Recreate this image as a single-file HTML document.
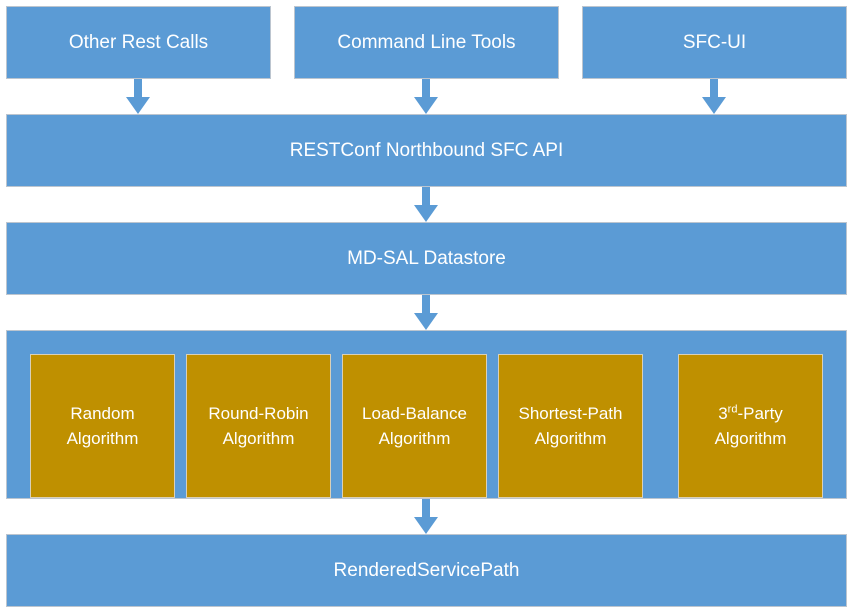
<!DOCTYPE html>
<html><head><meta charset="utf-8"><style>
body{margin:0;width:852px;height:615px;background:#fff;position:relative;overflow:hidden;font-family:"Liberation Sans",sans-serif}
.b{position:absolute;background:#5B9BD5;border:1px solid #bcc5cf;box-sizing:border-box;color:#fff;font-size:19px;display:flex;align-items:center;justify-content:center;text-align:center}
.g{position:absolute;background:#BF9000;border:1px solid #d9d0b8;box-sizing:border-box;color:#fff;font-size:17px;line-height:25px;display:flex;align-items:center;justify-content:center;text-align:center;top:354px;width:145px;height:144px}
sup{font-size:11px;line-height:0}
</style></head><body>
<div class="b" style="left:6px;top:6px;width:265px;height:73px">Other Rest Calls</div>
<div class="b" style="left:294px;top:6px;width:265px;height:73px">Command Line Tools</div>
<div class="b" style="left:582px;top:6px;width:265px;height:73px">SFC-UI</div>
<div class="b" style="left:6px;top:114px;width:841px;height:73px">RESTConf Northbound SFC API</div>
<div class="b" style="left:6px;top:222px;width:841px;height:73px">MD-SAL Datastore</div>
<div class="b" style="left:6px;top:330px;width:841px;height:169px"></div>
<div class="b" style="left:6px;top:534px;width:841px;height:73px">RenderedServicePath</div>
<div class="g" style="left:30px"><div>Random<br>Algorithm</div></div>
<div class="g" style="left:186px"><div>Round-Robin<br>Algorithm</div></div>
<div class="g" style="left:342px"><div>Load-Balance<br>Algorithm</div></div>
<div class="g" style="left:498px"><div>Shortest-Path<br>Algorithm</div></div>
<div class="g" style="left:678px"><div>3<sup>rd</sup>-Party<br>Algorithm</div></div>
<svg width="852" height="615" style="position:absolute;left:0;top:0">
<g fill="#5B9BD5">
<path d="M134 79h8v18h8l-12 17l-12-17h8z"/>
<path d="M422 79h8v18h8l-12 17l-12-17h8z"/>
<path d="M710 79h8v18h8l-12 17l-12-17h8z"/>
<path d="M422 187h8v18h8l-12 17l-12-17h8z"/>
<path d="M422 295h8v18h8l-12 17l-12-17h8z"/>
<path d="M422 499h8v18h8l-12 17l-12-17h8z"/>
</g></svg>
</body></html>
